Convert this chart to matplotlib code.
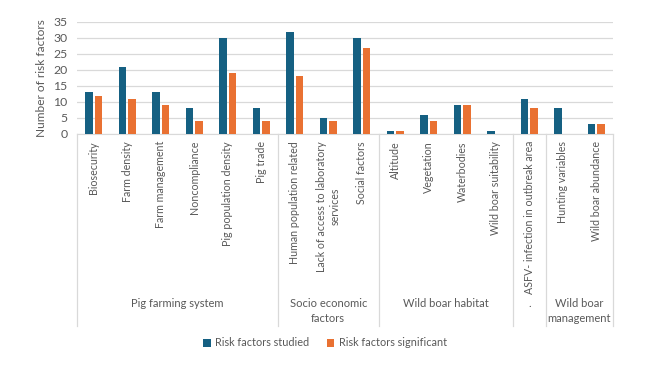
import matplotlib
matplotlib.use('Agg')
import matplotlib.pyplot as plt
import matplotlib.transforms as mtransforms
import numpy as np

categories = ['Biosecurity', 'Farm density', 'Farm management', 'Noncompliance',
              'Pig population density', 'Pig trade', 'Human population related',
              'Lack of access to laboratory\nservices', 'Social factors',
              'Altitude', 'Vegetation', 'Waterbodies', 'Wild boar suitability',
              'ASFV- infection in outbreak area', 'Hunting variables',
              'Wild boar abundance']
studied = [13, 21, 13, 8, 30, 8, 32, 5, 30, 1, 6, 9, 1, 11, 8, 3]
significant = [12, 11, 9, 4, 19, 4, 18, 4, 27, 1, 4, 9, 0, 8, 0, 3]
groups = ['Pig farming system', 'Socio economic\nfactors', 'Wild boar habitat',
          '.', 'Wild boar\nmanagement']
group_sizes = [6, 3, 4, 1, 2]

blue = '#156082'
orange = '#E97132'
grey_txt = '#595959'
grid_c = '#d9d9d9'

plt.rcParams['font.family'] = ['Lato', 'DejaVu Sans']

fig = plt.figure(figsize=(6.5, 3.66), dpi=100)
ax = fig.add_axes([77/650, 1-134/366, (613-77)/650, 112/366])

x = np.arange(len(categories))
w = 0.23
ax.bar(x - 0.145, studied, w, color=blue, label='Risk factors studied', zorder=3)
ax.bar(x + 0.145, significant, w, color=orange, label='Risk factors significant', zorder=3)

ax.set_xlim(-0.5, len(categories) - 0.5)
ax.set_ylim(0, 35)
ax.set_yticks(range(0, 36, 5))
ax.yaxis.grid(True, color=grid_c, linewidth=0.9, zorder=0)
ax.tick_params(axis='y', length=0, labelsize=8.8, labelcolor=grey_txt, pad=7)
ax.set_xticks([])
for s in ['top', 'right', 'left']:
    ax.spines[s].set_visible(False)
ax.spines['bottom'].set_color(grid_c)
ax.set_ylabel('Number of risk factors', fontsize=8.6, color=grey_txt, labelpad=4)

trans = mtransforms.blended_transform_factory(ax.transData, fig.transFigure)
for xi, cat in zip(x, categories):
    ax.text(xi, 1 - 141/366, cat, rotation=90, ha='center', va='top',
            fontsize=7.7, color=grey_txt, transform=trans, linespacing=1.25)

y_top = 1 - 134/366
y_bot = 1 - 326/366
start = -0.5
bounds = [start]
for name, n in zip(groups, group_sizes):
    centre = start + n / 2
    ax.text(centre, 1 - 298/366, name, ha='center', va='top', fontsize=8,
            color=grey_txt, transform=trans, linespacing=1.45)
    start += n
    bounds.append(start)
for b in bounds:
    ax.plot([b, b], [y_top, y_bot], color=grid_c, linewidth=0.9,
            transform=trans, clip_on=False)

fig.legend(loc='center', bbox_to_anchor=(0.5, 1 - 343/366), ncol=2, frameon=False,
           fontsize=7.8, handlelength=0.7, handleheight=0.7, handletextpad=0.4,
           columnspacing=1.6, labelcolor=grey_txt)

fig.savefig('out.png', dpi=100)
